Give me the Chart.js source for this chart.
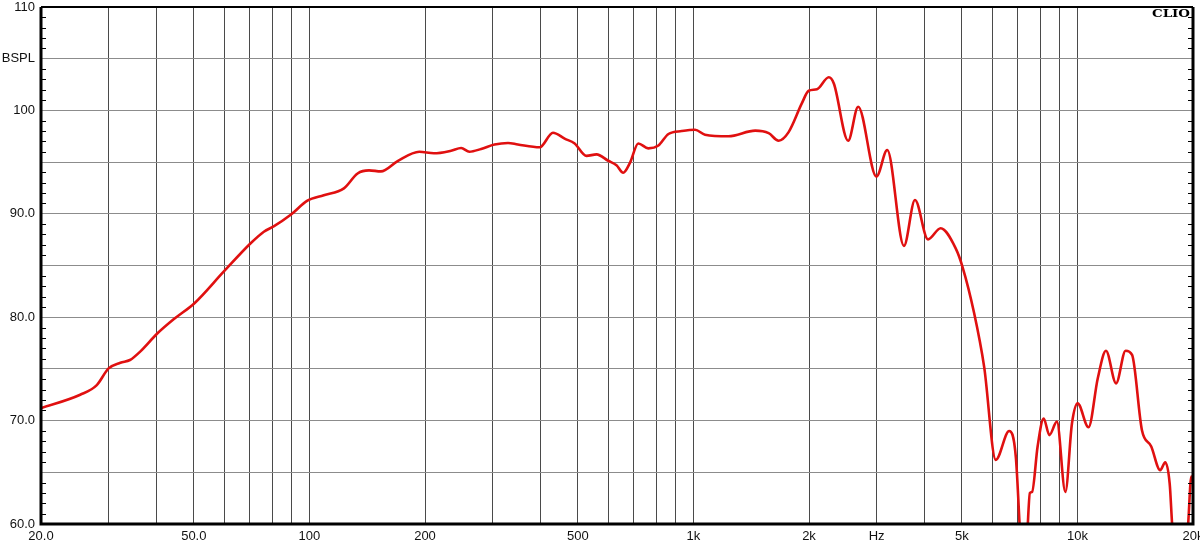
<!DOCTYPE html>
<html>
<head>
<meta charset="utf-8">
<script src="https://cdn.jsdelivr.net/npm/chart.js@4.4.1/dist/chart.umd.min.js"></script>
<style>
  html, body { margin: 0; padding: 0; background: #fff; }
  #box { width: 1200px; height: 544px; }
</style>
</head>
<body>
<div id="box"><canvas id="splChart"></canvas></div>
<script>
// frequency response (Hz, dB SPL)
const freqHz = [
    20, 25.3, 27.9, 30, 32.2, 34.1, 36.3, 40.1, 44.3, 50.2,
    59.8, 70.3, 76.1, 80.9, 89.4, 98.8, 109, 123, 133.5, 143,
    153.5, 169.7, 193.3, 211, 233.9, 248.4, 261, 280, 303.5, 329,
    349, 397.8, 430.8, 462, 490.7, 526.6, 559.4, 600, 630.6, 656.5,
    683, 718.6, 763, 810.6, 861, 932, 1010, 1072, 1234, 1449,
    1570, 1667, 1770, 1917, 1996, 2098, 2252, 2321, 2529, 2686,
    2997, 3197, 3534, 3776, 4083, 4404, 4820, 5018, 5383, 5717,
    6130, 6643, 6912, 7080, 7250, 7416, 7520, 7620, 7877, 8169,
    8452, 8844, 9303, 9680, 10015, 10690, 11300, 11870, 12610, 13350,
    13880, 14720, 15570, 16430, 16930, 17390, 17660, 18500, 19410, 19800,
    20000
];
const splDb = [
    71.2, 72.5, 73.4, 75.05, 75.6, 75.86, 76.7, 78.4, 79.8, 81.35,
    84.4, 87.15, 88.27, 88.8, 89.9, 91.27, 91.8, 92.46, 93.9, 94.2,
    94.1, 95.1, 96.0, 95.85, 96.1, 96.36, 96.0, 96.27, 96.7, 96.85,
    96.7, 96.43, 97.84, 97.27, 96.8, 95.6, 95.75, 95.13, 94.7, 93.97,
    94.9, 96.8, 96.33, 96.6, 97.72, 98.0, 98.13, 97.65, 97.5, 98.04,
    97.8, 97.07, 97.9, 100.7, 101.9, 102.04, 103.2, 102.6, 97.07, 100.36,
    93.6, 96.17, 86.9, 91.33, 87.53, 88.6, 86.66, 84.9, 80.4, 75.2,
    66.2, 69.0, 66.5, 59.5, 52, 59.5, 63.0, 63.1, 67.5, 70.2,
    68.6, 69.9, 63.1, 69.74, 71.67, 69.35, 74.1, 76.76, 73.6, 76.76,
    76.35, 69.1, 67.5, 65.2, 65.97, 63.9, 59.8, 52, 59.8, 64.6,
    64.5
];

// axis ticks / labels
const gridFreqs = [
    20, 30, 40, 50, 60, 70, 80, 90, 100,
    200, 300, 400, 500, 600, 700, 800, 900, 1000,
    2000, 3000, 4000, 5000, 6000, 7000, 8000, 9000, 10000, 20000
];
const xLabelValues = [20, 50, 100, 200, 500, 1000, 2000, 3000, 5000, 10000, 20000];
const xLabelTexts = ['20.0', '50.0', '100', '200', '500', '1k', '2k', 'Hz', '5k', '10k', '20k'];
const yGridValues = [60, 65, 70, 75, 80, 85, 90, 95, 100, 105, 110];
const yLabelValues = [110, 105, 100, 90, 80, 70, 60];
const yLabelTexts = ['110', 'BSPL', '100', '90.0', '80.0', '70.0', '60.0'];

const tickFont = { family: '"Liberation Sans", Arial, sans-serif', size: 13 };

// frame, small 1 dB ticks and the CLIO mark
const framePlugin = {
    id: 'frame',
    afterDatasetsDraw(chart) {
        const ctx = chart.ctx;
        const a = chart.chartArea;
        const ys = chart.scales.y;
        ctx.save();
        ctx.strokeStyle = '#000';
        ctx.lineWidth = 1;
        ctx.beginPath();
        for (let v = 60; v <= 110; v++) {
            if (v % 5 === 0) continue;
            const py = Math.round(ys.getPixelForValue(v)) + 0.5;
            ctx.moveTo(a.left, py); ctx.lineTo(a.left + 5, py);
            ctx.moveTo(a.right - 5, py); ctx.lineTo(a.right, py);
        }
        ctx.stroke();

        ctx.lineWidth = 3;
        ctx.beginPath();
        ctx.moveTo(a.left, a.top); ctx.lineTo(a.left, a.bottom);
        ctx.lineTo(a.right, a.bottom); ctx.lineTo(a.right, a.top);
        ctx.stroke();
        ctx.lineWidth = 2;
        ctx.beginPath();
        ctx.moveTo(a.left, a.top); ctx.lineTo(a.right, a.top);
        ctx.stroke();

        ctx.fillStyle = '#000';
        ctx.font = 'bold 11px "DejaVu Serif", serif';
        ctx.textBaseline = 'alphabetic';
        const w = ctx.measureText('CLIO').width;
        const sx = 38 / w;
        ctx.translate(a.right - 3 - 38, a.top + 10);
        ctx.scale(sx, 1);
        ctx.fillText('CLIO', 0, 0);
        ctx.restore();
    }
};

const splChart = new Chart(document.getElementById('splChart'), {
    type: 'line',
    data: {
        datasets: [
            {
                label: 'SPL',
                data: freqHz.map((f, i) => ({ x: f, y: splDb[i] })),
                borderColor: '#e01010',
                borderWidth: 2.6,
                pointRadius: 0,
                cubicInterpolationMode: 'monotone',
                fill: false
            }
        ]
    },
    options: {
        responsive: true,
        maintainAspectRatio: false,
        animation: false,
        layout: { padding: { top: 7, right: 7, left: 0, bottom: 0 } },
        plugins: {
            legend: { display: false },
            tooltip: { enabled: false }
        },
        scales: {
            x: {
                type: 'logarithmic',
                min: 20,
                max: 20000,
                afterBuildTicks: (s) => { s.ticks = gridFreqs.map(v => ({ value: v })); },
                afterFit: (s) => { s.height = 20; s.paddingLeft = 0; s.paddingRight = 0; },
                ticks: {
                    autoSkip: false,
                    maxRotation: 0,
                    padding: 5,
                    color: '#111',
                    font: tickFont,
                    callback: (v) => {
                        const i = xLabelValues.indexOf(v);
                        return i < 0 ? '' : xLabelTexts[i];
                    }
                },
                grid: { color: '#4a4a4a', lineWidth: 1, drawTicks: false },
                border: { display: false }
            },
            y: {
                min: 60,
                max: 110,
                afterBuildTicks: (s) => { s.ticks = yGridValues.map(v => ({ value: v })); },
                afterFit: (s) => { s.width = 41; s.paddingTop = 0; s.paddingBottom = 0; },
                ticks: {
                    autoSkip: false,
                    padding: 6,
                    color: '#111',
                    font: tickFont,
                    callback: (v) => {
                        const i = yLabelValues.indexOf(v);
                        return i < 0 ? '' : yLabelTexts[i];
                    }
                },
                grid: { color: '#8c8c8c', lineWidth: 1, drawTicks: false },
                border: { display: false }
            }
        }
    },
    plugins: [framePlugin]
});
</script>
</body>
</html>
